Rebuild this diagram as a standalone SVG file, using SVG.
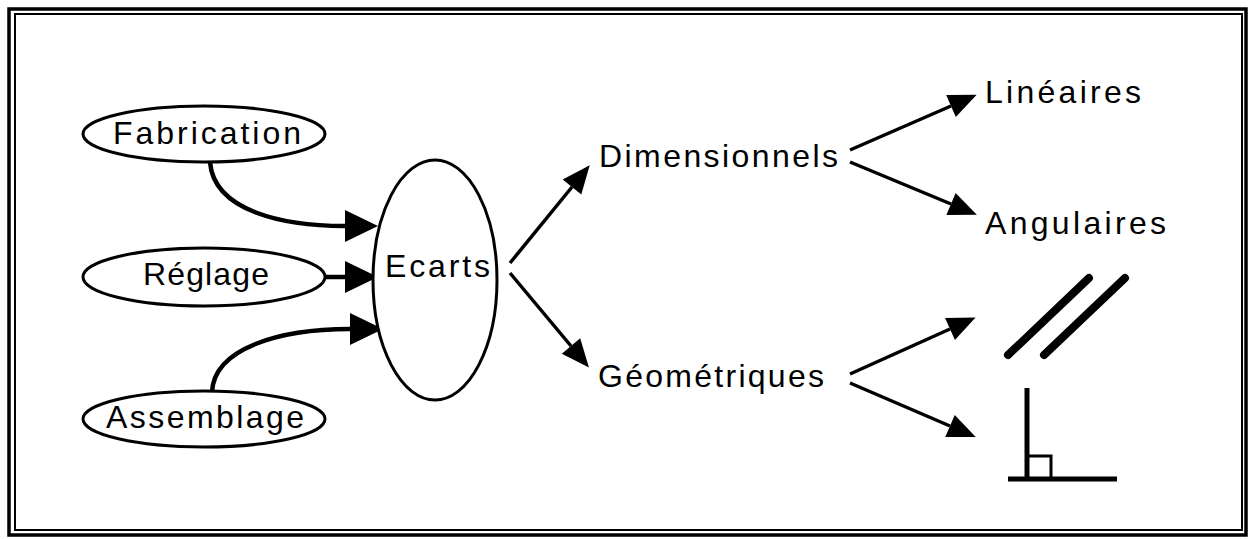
<svg xmlns="http://www.w3.org/2000/svg" width="1252" height="539" viewBox="0 0 1252 539">
<style>
.lbl{font-family:"Liberation Sans",Arial,Helvetica,sans-serif;font-size:32px;fill:#000}
.node{fill:#fff;stroke:#000;stroke-width:3}
.thick{fill:none;stroke:#000;stroke-width:4.5}
.thin{fill:none;stroke:#000;stroke-width:3.5}
.sym{fill:none;stroke:#000}
</style>
<defs>
<marker id="bigHead" markerUnits="userSpaceOnUse" markerWidth="34" markerHeight="34" refX="0" refY="16" orient="auto" overflow="visible">
<path d="M0,0 L33,16 L0,32 z" fill="#000"/>
</marker>
<marker id="head" markerUnits="userSpaceOnUse" markerWidth="30" markerHeight="26" refX="0" refY="12" orient="auto" overflow="visible">
<path d="M0,0 L28,12 L0,24 z" fill="#000"/>
</marker>
</defs>
<rect width="1252" height="539" fill="#fff"/>
<g id="frame">
<rect x="9" y="9" width="1237" height="526" fill="none" stroke="#000" stroke-width="3.5"/>
<rect x="15" y="14" width="1227" height="516" fill="none" stroke="#000" stroke-width="2"/>
</g>
<g id="connectors">
<path class="thick" d="M210,162 C214,212 285,226 345,226" marker-end="url(#bigHead)"/>
<path class="thick" d="M325,277 L345,277" marker-end="url(#bigHead)"/>
<path class="thick" d="M212,392 C214,348 280,329 350,329" marker-end="url(#bigHead)"/>
<path class="thin" d="M510,263 L572,187" marker-end="url(#head)"/>
<path class="thin" d="M510,273 L571,346" marker-end="url(#head)"/>
<path class="thin" d="M850,150 L951,106" marker-end="url(#head)"/>
<path class="thin" d="M850,162 L951,204" marker-end="url(#head)"/>
<path class="thin" d="M850,374 L950,329" marker-end="url(#head)"/>
<path class="thin" d="M850,383 L950,426" marker-end="url(#head)"/>
</g>
<g id="fabrication">
<ellipse class="node" cx="204" cy="134" rx="121" ry="28"/>
<text class="lbl" x="113" y="144" textLength="188" lengthAdjust="spacing">Fabrication</text>
</g>
<g id="reglage">
<ellipse class="node" cx="204" cy="277" rx="121" ry="29"/>
<text class="lbl" x="143" y="285" textLength="126" lengthAdjust="spacing">Réglage</text>
</g>
<g id="assemblage">
<ellipse class="node" cx="204" cy="419" rx="121" ry="28"/>
<text class="lbl" x="106" y="428" textLength="198" lengthAdjust="spacing">Assemblage</text>
</g>
<g id="ecarts">
<ellipse class="node" cx="435" cy="280" rx="62" ry="120"/>
<text class="lbl" x="385" y="277" textLength="105" lengthAdjust="spacing">Ecarts</text>
</g>
<g id="dimensionnels">
<text class="lbl" x="599" y="167" textLength="239" lengthAdjust="spacing">Dimensionnels</text>
</g>
<g id="geometriques">
<text class="lbl" x="598" y="387" textLength="226" lengthAdjust="spacing">Géométriques</text>
</g>
<g id="lineaires">
<text class="lbl" x="985" y="103" textLength="156" lengthAdjust="spacing">Linéaires</text>
</g>
<g id="angulaires">
<text class="lbl" x="985" y="234" textLength="181" lengthAdjust="spacing">Angulaires</text>
</g>
<g id="parallelisme">
<line class="sym" x1="1008" y1="355" x2="1089" y2="278" stroke-width="8" stroke-linecap="round"/>
<line class="sym" x1="1044" y1="355" x2="1125" y2="278" stroke-width="8" stroke-linecap="round"/>
</g>
<g id="perpendicularite">
<line class="sym" x1="1027" y1="388" x2="1027" y2="481" stroke-width="5"/>
<line class="sym" x1="1008" y1="479" x2="1117" y2="479" stroke-width="5"/>
<rect class="sym" x="1027" y="456" width="24" height="23" stroke-width="3"/>
</g>
</svg>
